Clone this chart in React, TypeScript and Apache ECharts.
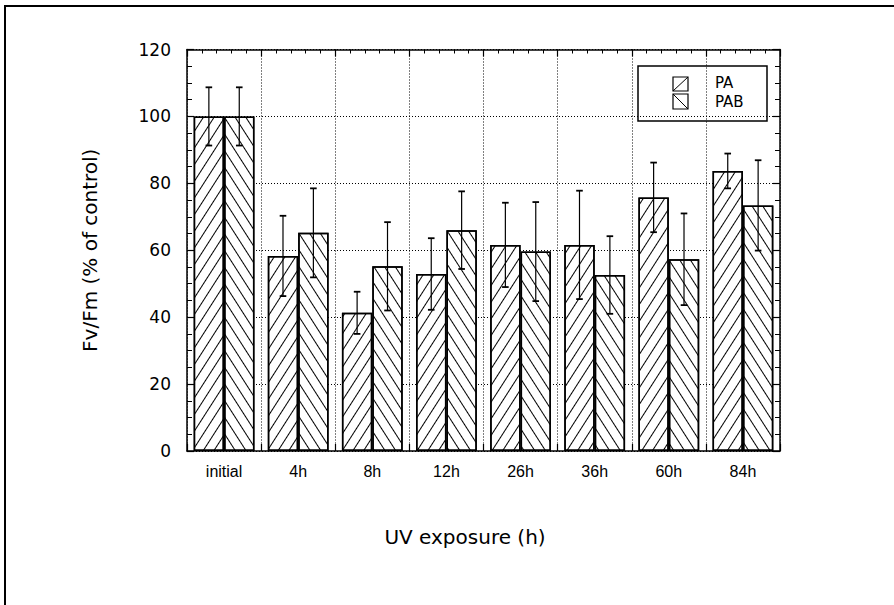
import React, { useEffect, useRef } from "react";
import * as echarts from "echarts";

const categories = ["initial", "4h", "8h", "12h", "26h", "36h", "60h", "84h"];
const paValues = [100, 58.3, 41.3, 52.9, 61.6, 61.6, 75.8, 83.7];
const pabValues = [100, 65.2, 55.2, 66.0, 59.6, 52.6, 57.3, 73.4];
const paErrors = [8.7, 12.0, 6.3, 10.7, 12.6, 16.2, 10.4, 5.2];
const pabErrors = [8.7, 13.3, 13.2, 11.6, 14.8, 11.6, 13.7, 13.5];
const yTicks = [0, 20, 40, 60, 80, 100, 120];
const seriesNames = ["PA", "PAB"];

const BAR_FRAC = 0.41;

function errorRender(sign: number) {
  return (params: any, api: any) => {
    const i = api.value(0);
    const v = api.value(1);
    const e = api.value(2);
    const band = api.size([1, 0])[0];
    const off = (band * BAR_FRAC) / 2 * sign;
    const top = api.coord([i, v + e]);
    const bot = api.coord([i, v - e]);
    const x = top[0] + off;
    const cap = 3.3;
    const st = { stroke: "#000", lineWidth: 1.2 };
    const cs = { stroke: "#000", lineWidth: 1.8 };
    return {
      type: "group",
      children: [
        { type: "line", shape: { x1: x, y1: top[1], x2: x, y2: bot[1] }, style: st },
        { type: "line", shape: { x1: x - cap, y1: top[1], x2: x + cap, y2: top[1] }, style: cs },
        { type: "line", shape: { x1: x - cap, y1: bot[1], x2: x + cap, y2: bot[1] }, style: cs },
      ],
    };
  };
}

export default function App() {
  const ref = useRef<HTMLDivElement>(null);
  useEffect(() => {
    if (!ref.current) return;
    const chart = echarts.init(ref.current, null, { renderer: "svg" });
    const hatch = (rot: number) => ({
      symbol: "rect",
      symbolSize: 1,
      color: "#000",
      dashArrayX: [1, 0],
      dashArrayY: [1, 8],
      rotation: rot,
    });
    const dotted = { type: [1, 2] as any, color: "#000", width: 1 };
    const option: any = {
      animation: false,
      backgroundColor: "#fff",
      grid: { left: 187, top: 49.5, right: 114, bottom: 154, containLabel: false },
      xAxis: [
        {
          type: "category",
          data: categories,
          position: "bottom",
          axisLine: { show: true, lineStyle: { color: "#000", width: 1.5 } },
          axisTick: { show: false },
          axisLabel: {
            color: "#000",
            fontFamily: "Liberation Sans",
            fontSize: 16,
            margin: 12,
          },
          splitLine: { show: true, interval: 0, lineStyle: dotted },
          name: "UV exposure (h)",
          nameLocation: "middle",
          nameGap: 76,
          nameTextStyle: {
            color: "#000",
            fontFamily: "DejaVu Sans",
            fontSize: 20,
            padding: [0, 37, 0, 0],
          },
        },
        {
          type: "value",
          min: 0,
          max: 8,
          interval: 1,
          position: "top",
          axisLine: { show: true, onZero: false, lineStyle: { color: "#000", width: 1.5 } },
          axisTick: { show: true, inside: true, length: 7, lineStyle: { color: "#000", width: 1.2 } },
          minorTick: { show: true, splitNumber: 5, length: 4, lineStyle: { color: "#000", width: 1 } },
          axisLabel: { show: false },
          splitLine: { show: false },
        },
        {
          type: "value",
          min: 0,
          max: 8,
          interval: 1,
          position: "bottom",
          axisLine: { show: false, onZero: false },
          axisTick: { show: true, inside: true, length: 7, lineStyle: { color: "#000", width: 1.2 } },
          minorTick: { show: true, splitNumber: 5, length: 4, lineStyle: { color: "#000", width: 1 } },
          axisLabel: { show: false },
          splitLine: { show: false },
        },
      ],
      yAxis: [
        {
          type: "value",
          min: 0,
          max: 120,
          interval: 20,
          position: "left",
          axisLine: { show: true, onZero: false, lineStyle: { color: "#000", width: 1.5 } },
          axisTick: { show: true, inside: true, length: 7, lineStyle: { color: "#000", width: 1.2 } },
          minorTick: { show: true, splitNumber: 4, length: 5, lineStyle: { color: "#000", width: 1 } },
          axisLabel: {
            color: "#000",
            fontFamily: "DejaVu Sans",
            fontSize: 17,
            margin: 16,
            formatter: (v: number) => (yTicks.includes(v) ? String(v) : ""),
          },
          splitLine: { show: true, lineStyle: dotted },
          name: "Fv/Fm (% of control)",
          nameLocation: "middle",
          nameGap: 87,
          nameTextStyle: { color: "#000", fontFamily: "DejaVu Sans", fontSize: 20 },
        },
        {
          type: "value",
          min: 0,
          max: 120,
          interval: 20,
          position: "right",
          axisLine: { show: true, onZero: false, lineStyle: { color: "#000", width: 1.5 } },
          axisTick: { show: true, inside: true, length: 7, lineStyle: { color: "#000", width: 1.2 } },
          minorTick: { show: true, splitNumber: 4, length: 5, lineStyle: { color: "#000", width: 1 } },
          axisLabel: { show: false },
          splitLine: { show: false },
        },
      ],
      series: [
        {
          name: seriesNames[0],
          type: "bar",
          data: paValues,
          barWidth: BAR_FRAC * 100 + "%",
          barGap: "0%",
          itemStyle: { color: "#fff", borderColor: "#000", borderWidth: 1.5, decal: hatch(-1.0) },
          z: 3,
        },
        {
          name: seriesNames[1],
          type: "bar",
          data: pabValues,
          barWidth: BAR_FRAC * 100 + "%",
          barGap: "0%",
          itemStyle: { color: "#fff", borderColor: "#000", borderWidth: 1.5, decal: hatch(1.0) },
          z: 3,
        },
        {
          type: "custom",
          renderItem: errorRender(-1),
          data: categories.map((c, i) => [i, paValues[i], paErrors[i]]),
          z: 5,
        },
        {
          type: "custom",
          renderItem: errorRender(1),
          data: categories.map((c, i) => [i, pabValues[i], pabErrors[i]]),
          z: 5,
        },
      ],
      graphic: [
        { type: "line", shape: { x1: 4, y1: 6, x2: 894, y2: 6 }, style: { stroke: "#000", lineWidth: 2 } },
        { type: "line", shape: { x1: 5, y1: 6, x2: 5, y2: 605 }, style: { stroke: "#000", lineWidth: 2 } },
        {
          type: "group",
          z: 100,
          children: [
            { type: "rect", shape: { x: 638, y: 66, width: 129, height: 55 }, style: { fill: "#fff", stroke: "#000", lineWidth: 1.5 } },
            { type: "rect", shape: { x: 673, y: 77, width: 15, height: 14 }, style: { fill: "#fff", stroke: "#000", lineWidth: 1.2 } },
            { type: "line", shape: { x1: 673, y1: 91, x2: 688, y2: 77 }, style: { stroke: "#000", lineWidth: 1 } },
            { type: "rect", shape: { x: 673, y: 94, width: 15, height: 15 }, style: { fill: "#fff", stroke: "#000", lineWidth: 1.2 } },
            { type: "line", shape: { x1: 673, y1: 94, x2: 688, y2: 109 }, style: { stroke: "#000", lineWidth: 1 } },
            { type: "text", x: 715, y: 83, style: { text: seriesNames[0], fill: "#000", font: "15px 'DejaVu Sans'", textVerticalAlign: "middle" } },
            { type: "text", x: 715, y: 102, style: { text: seriesNames[1], fill: "#000", font: "15px 'DejaVu Sans'", textVerticalAlign: "middle" } },
          ],
        },
      ],
    };
    chart.setOption(option);
    return () => chart.dispose();
  }, []);
  return (
    <div
      ref={ref}
      style={{ position: "fixed", left: 0, top: 0, width: 894, height: 605, background: "#fff" }}
    />
  );
}
